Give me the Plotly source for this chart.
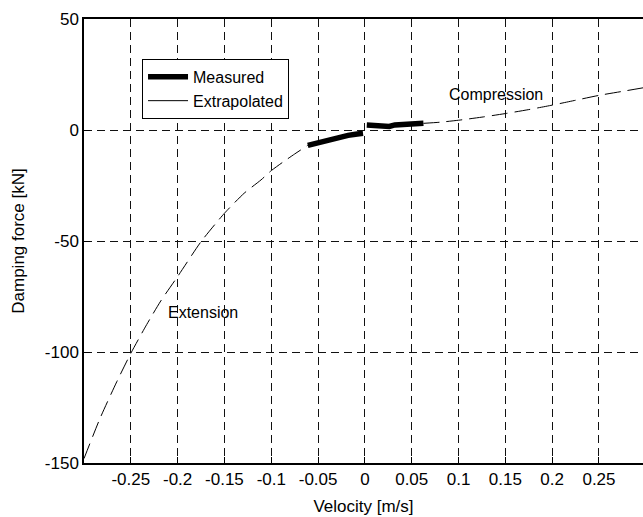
import plotly.graph_objects as go

# Measured data (two branches)
meas_ext_x = [-0.061, -0.05, -0.04, -0.033, -0.025, -0.018, -0.01, -0.002]
meas_ext_y = [-6.9, -5.6, -4.6, -3.8, -3.0, -2.4, -1.9, -1.5]
meas_comp_x = [0.002, 0.012, 0.020, 0.026, 0.032, 0.042, 0.052, 0.0625]
meas_comp_y = [2.2, 2.2, 2.1, 1.6, 2.3, 2.5, 2.7, 3.0]

# Extrapolated curve (extension and compression parts)
extr_ext_x = [-0.3, -0.283, -0.265, -0.25, -0.233, -0.218, -0.2, -0.175, -0.15, -0.129, -0.111, -0.1, -0.088, -0.075, -0.061]
extr_ext_y = [-148, -130, -113.4, -100.6, -87.6, -77.0, -66.0, -50.3, -37.5, -28.5, -22.5, -18.3, -14.6, -10.8, -6.9]
extr_comp_x = [0.0625, 0.08, 0.1, 0.125, 0.15, 0.175, 0.2, 0.225, 0.25, 0.275, 0.297]
extr_comp_y = [3.0, 3.5, 4.4, 5.8, 7.4, 9.2, 11.2, 13.4, 15.6, 17.4, 19.0]

x_ticks = [-0.25, -0.2, -0.15, -0.1, -0.05, 0, 0.05, 0.1, 0.15, 0.2, 0.25]
x_tick_labels = ["-0.25", "-0.2", "-0.15", "-0.1", "-0.05", "0", "0.05", "0.1", "0.15", "0.2", "0.25"]
y_ticks = [-150, -100, -50, 0, 50]
y_tick_labels = ["-150", "-100", "-50", "0", "50"]

FONT = "Liberation Sans, Arial, Helvetica, sans-serif"

fig = go.Figure()

fig.add_trace(go.Scatter(
    x=extr_ext_x + [None] + extr_comp_x,
    y=extr_ext_y + [None] + extr_comp_y,
    mode="lines", line=dict(color="black", width=1, dash="16px,7px",
                            shape="spline", smoothing=0.6),
    showlegend=False, hoverinfo="skip"))

fig.add_trace(go.Scatter(
    x=meas_ext_x + [None] + meas_comp_x,
    y=meas_ext_y + [None] + meas_comp_y,
    mode="lines", line=dict(color="black", width=5.5),
    name="Measured"))

# legend entry for the extrapolated curve (drawn solid as in the reference legend)
fig.add_trace(go.Scatter(
    x=[None], y=[None], mode="lines",
    line=dict(color="black", width=1), name="Extrapolated"))

fig.add_annotation(x=0.14, y=15.8, text="Compression", showarrow=False,
                   font=dict(size=16, color="black", family=FONT))
fig.add_annotation(x=-0.1726, y=-82.3, text="Extension", showarrow=False,
                   font=dict(size=16, color="black", family=FONT))

fig.update_layout(
    width=643, height=517,
    margin=dict(l=84, r=0, t=19, b=54),
    paper_bgcolor="white", plot_bgcolor="white",
    font=dict(family=FONT, size=17, color="black"),
    legend=dict(x=0.1038, y=0.91, xanchor="left", yanchor="top",
                bordercolor="black", borderwidth=1, bgcolor="white",
                font=dict(size=16), tracegroupgap=0, itemwidth=40),
)

fig.update_xaxes(
    range=[-0.3, 0.297], tickvals=x_ticks, ticktext=x_tick_labels,
    showgrid=True, gridcolor="#111", gridwidth=1, griddash="8px,5px",
    showline=True, linecolor="black", linewidth=1.5, mirror=True,
    ticks="inside", ticklen=6, tickcolor="black",
    zeroline=False,
    title=dict(text="Velocity [m/s]", font=dict(size=17), standoff=12),
)
fig.update_yaxes(
    range=[-150, 50], tickvals=y_ticks, ticktext=y_tick_labels,
    showgrid=True, gridcolor="#111", gridwidth=1, griddash="8px,5px",
    showline=True, linecolor="black", linewidth=1.5, mirror=False,
    ticks="inside", ticklen=6, tickcolor="black",
    zeroline=False,
    title=dict(text="Damping force [kN]", font=dict(size=17), standoff=16),
)

fig.write_html("out.html")
